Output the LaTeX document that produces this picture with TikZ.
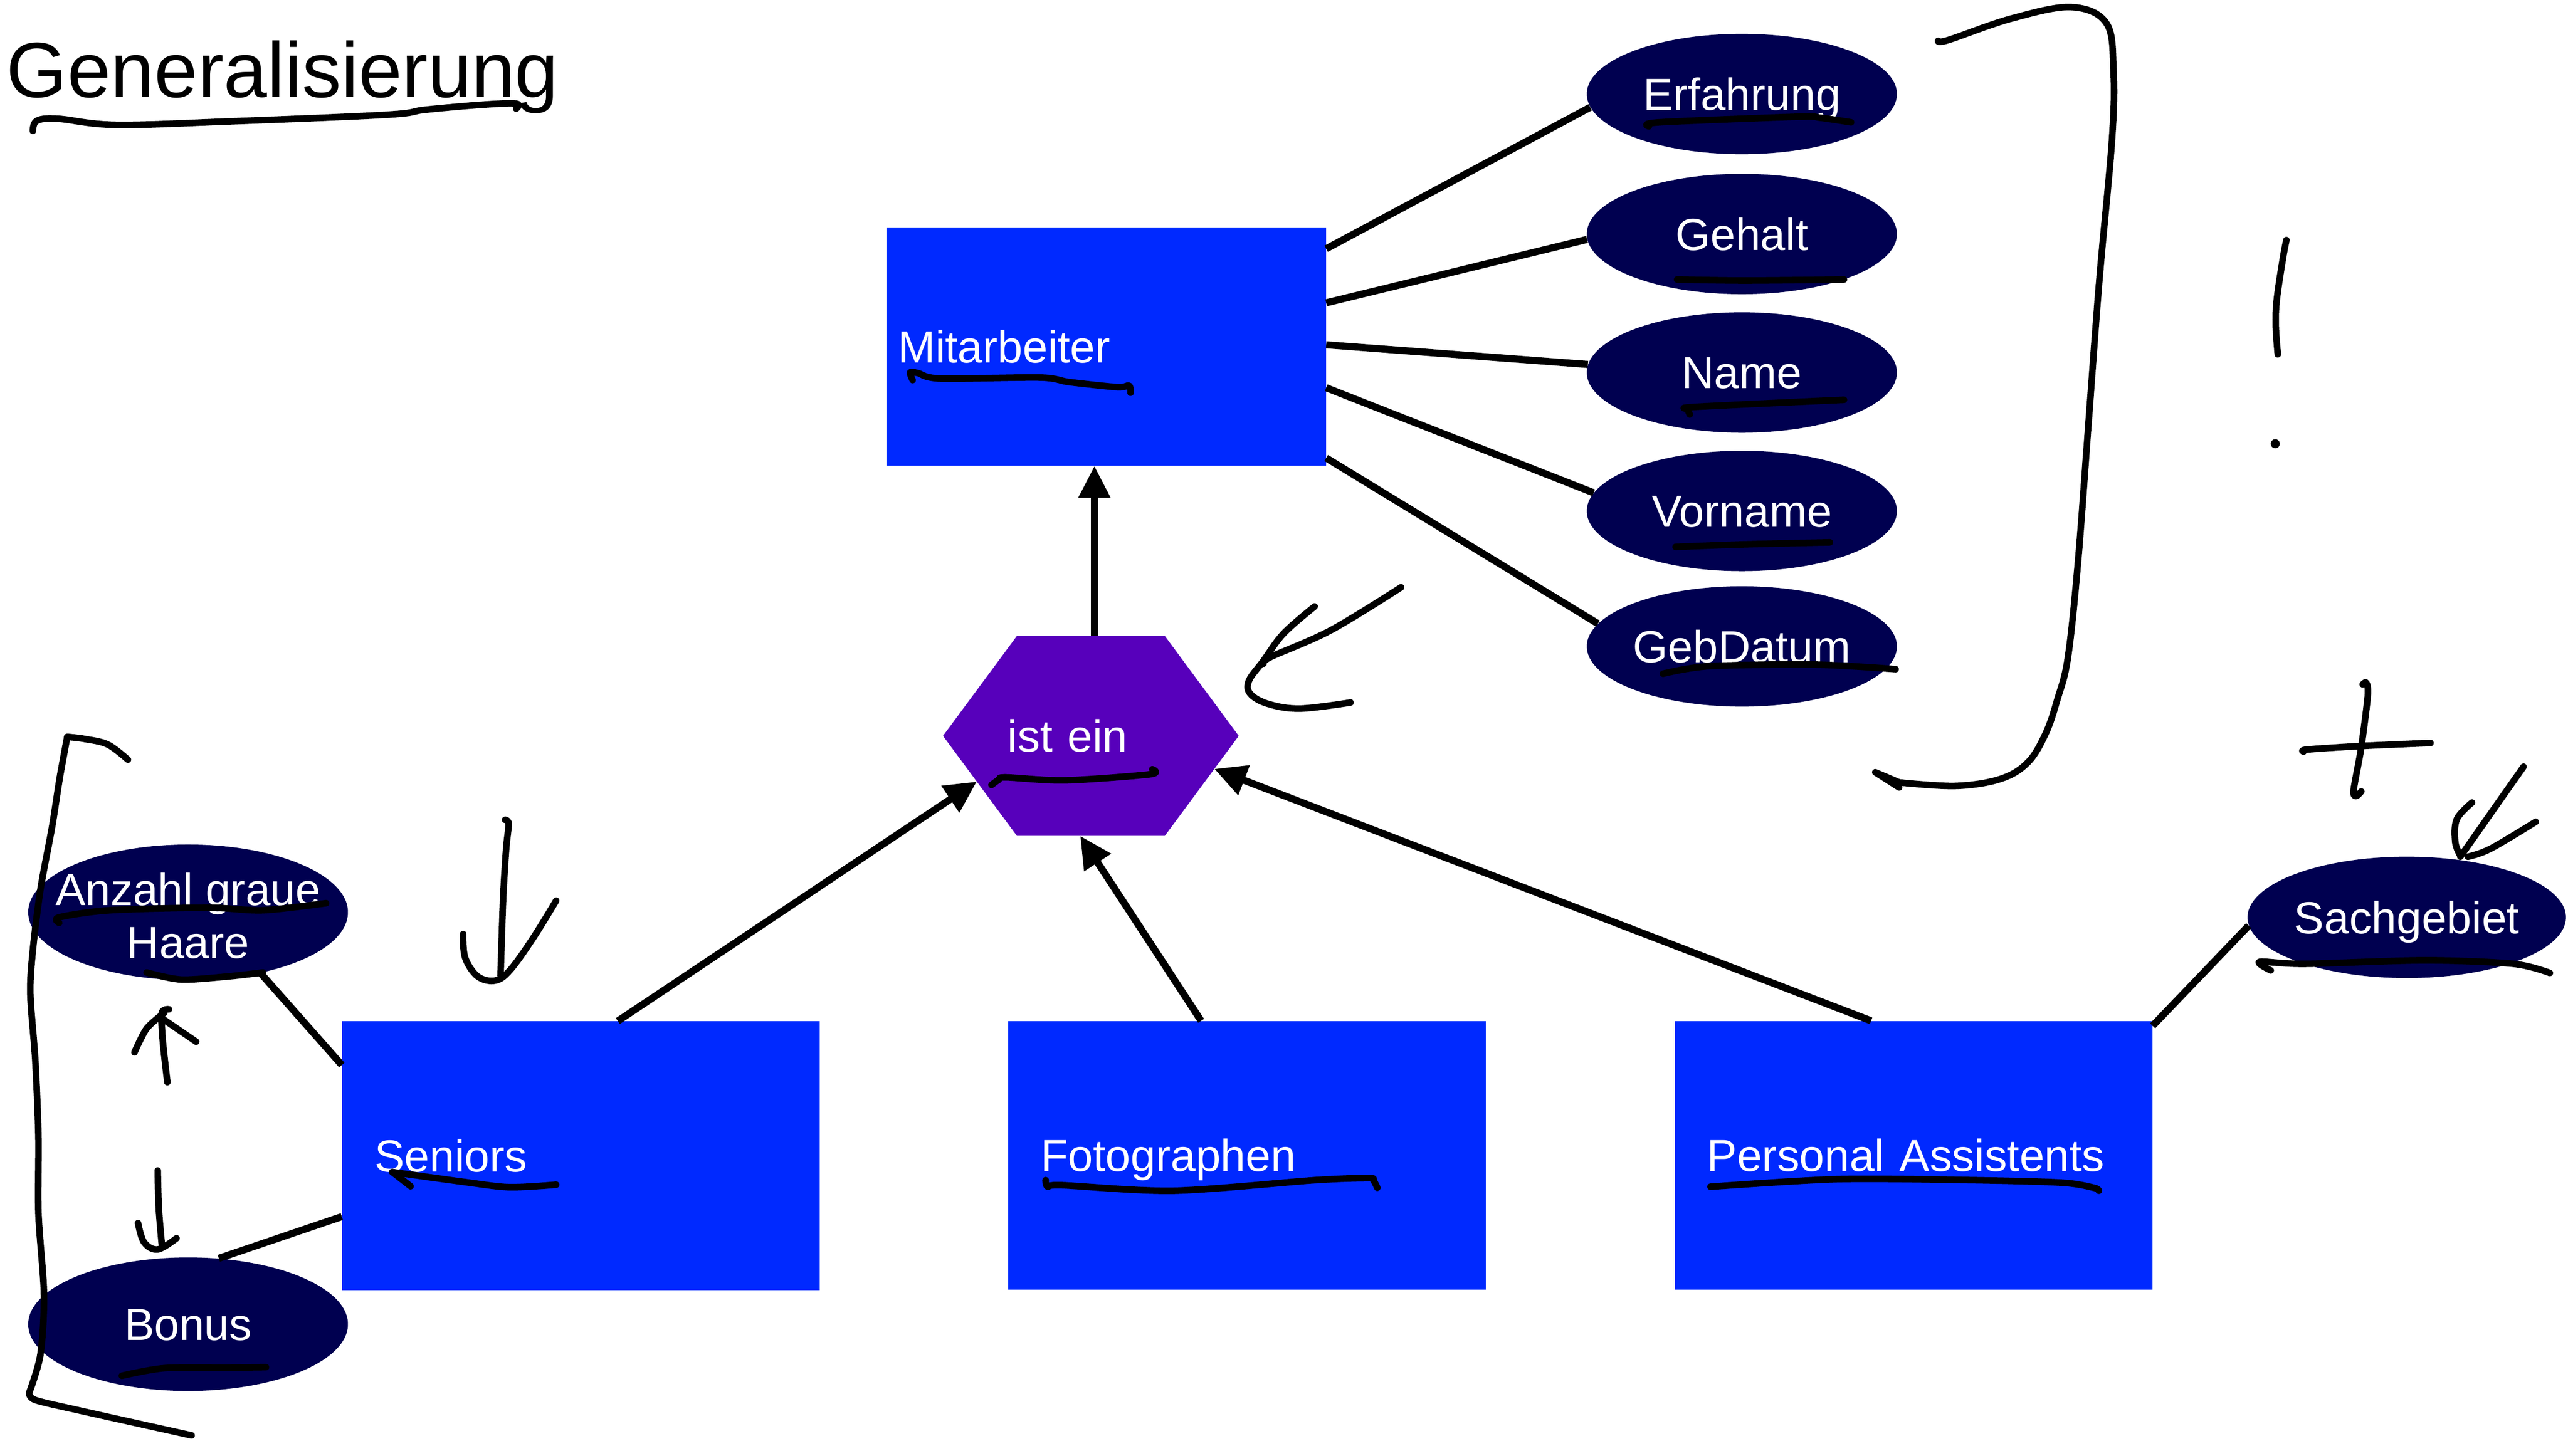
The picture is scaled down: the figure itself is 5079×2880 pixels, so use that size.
\documentclass[tikz,border=0pt]{standalone}
\usepackage{fontspec}
\setmainfont{Liberation Sans}
\usetikzlibrary{arrows.meta,calc,shapes.geometric}
\definecolor{entblue}{RGB}{0,41,255}
\definecolor{attnavy}{RGB}{0,0,80}
\definecolor{isapurple}{RGB}{87,0,187}
\pgfdeclarelayer{bg}
\pgfsetlayers{bg,main}
\begin{document}
\begin{tikzpicture}[x=0.01cm,y=-0.01cm,
  lbl/.style={text=white, font=\fontsize{25.3}{30}\selectfont, text height=18.1pt, text depth=0pt},
  entity/.style={lbl, rectangle, fill=entblue, minimum width=9.44cm, minimum height=5.31cm, inner ysep=0pt, inner xsep=0.64cm, text width=8.16cm, align=left},
  attr/.style={lbl, ellipse, fill=attnavy, minimum width=6.13cm, minimum height=2.38cm, inner sep=0pt, align=center},
  conn/.style={line width=0.14cm},
  isarrow/.style={conn, -{Triangle[length=0.63cm,width=0.6cm]}},
  hand/.style={line width=0.13cm, line cap=round, line join=round},
]
\useasboundingbox (0,0) rectangle (5079,2880);
\begin{pgfonlayer}{bg}
\fill[white] (0,0) rectangle (5079,2880);
\end{pgfonlayer}

% title
\node[anchor=base west, inner sep=0pt, font=\fontsize{44}{50}\selectfont] (title) at (12,192) {Generalisierung};

% entities
\node[entity, minimum width=8.68cm, minimum height=4.71cm, inner xsep=0.22cm, text width=8.24cm] (mit) at (2188,685.5) {Mitarbeiter};
\node[entity] (sen) at (1149,2286.5) {Seniors};
\node[entity] (foto) at (2466.5,2286) {Fotographen};
\node[entity] (pa) at (3784.5,2286) {Personal Assistents};

% is-a relationship
\node[lbl, rectangle, minimum width=5.83cm, minimum height=3.94cm, inner ysep=0pt, inner xsep=1.27cm, text width=3.29cm, align=left] (isa) at (2157.5,1456) {ist ein};
\coordinate (isaTL) at ($(isa.north west)!0.25!(isa.north east)$);
\coordinate (isaTR) at ($(isa.north west)!0.75!(isa.north east)$);
\coordinate (isaBL) at ($(isa.south west)!0.25!(isa.south east)$);
\coordinate (isaBR) at ($(isa.south west)!0.75!(isa.south east)$);
\begin{pgfonlayer}{bg}
\fill[isapurple] (isa.west) -- (isaTL) -- (isaTR) -- (isa.east) -- (isaBR) -- (isaBL) -- cycle;
\end{pgfonlayer}
\coordinate (isaSW) at ($(isa.west)!0.457!(isaBL)$);
\coordinate (isaS) at ($(isaBL)!0.428!(isaBR)$);
\coordinate (isaSE) at ($(isa.east)!0.33!(isaBR)$);

% attributes
\node[attr] (erf) at (3445,186) {Erfahrung};
\node[attr] (geh) at (3445,463) {Gehalt};
\node[attr] (name) at (3445,737) {Name};
\node[attr] (vor) at (3445,1011) {Vorname};
\node[attr] (geb) at (3445,1279) {GebDatum};
\node[attr, minimum width=6.15cm, minimum height=2.4cm] (sach) at (4760,1815) {Sachgebiet};
\node[attr, minimum width=6.32cm, minimum height=2.68cm, text height=52pt, text depth=0pt] (anz) at (372,1805) {\makebox[0pt]{Anzahl graue}\\\makebox[0pt]{Haare}};
\node[attr, minimum width=6.32cm, minimum height=2.64cm] (bonus) at (372,2620) {Bonus};

% attribute connectors
\draw[conn] ($(mit.north east)+(0,43)$) -- (erf.185);
\draw[conn] ($(mit.north east)+(0,150)$) -- (geh.182);
\draw[conn] ($(mit.north east)+(0,233)$) -- (name.177);
\draw[conn] ($(mit.north east)+(0,318)$) -- (vor.173);
\draw[conn] ($(mit.north east)+(0,457)$) -- (geb.171);
\draw[conn] ($(sen.north west)+(0,87)$) -- (anz.320);
\draw[conn] ($(sen.north west)+(0,387)$) -- (bonus.65);
\draw[conn] ($(pa.north east)+(0,10)$) -- (sach.183);

% is-a arrows
\draw[isarrow] ($(isa.north)+(7,0)$) coordinate (isatop) -- (isatop |- mit.south);
\draw[isarrow] ($(sen.north)+(73,0)$) -- (isaSW);
\draw[isarrow] ($(foto.north)+(-91,0)$) -- (isaS);
\draw[isarrow] ($(pa.north)+(-84,0)$) -- (isaSE);

% ---- handwritten annotations ----
% title underline
\draw[hand] plot[smooth, tension=0.6] coordinates {(65,259) (73,239) (115,235) (230,247) (459,240) (765,227) (842,217) (956,207) (1021,205) (1021,215)};
% Mitarbeiter underline
\draw[hand] plot[smooth, tension=0.5] coordinates {(1805,752) (1800,737) (1815,738) (1860,749) (2057,747) (2115,756) (2210,766) (2233,763) (2236,777)};
% ist ein underline
\draw[hand] plot[smooth, tension=0.5] coordinates {(1961,1553) (1975,1543) (1989,1538) (2106,1544) (2274,1532) (2279,1522)};
% arrow near is-a
\draw[hand] plot[smooth, tension=0.6] coordinates {(2771,1162) (2632,1247) (2513,1300) (2499,1313)};
\draw[hand] plot[smooth, tension=0.6] coordinates {(2600,1200) (2539,1253) (2499,1307) (2470,1347) (2473,1373) (2509,1393) (2572,1402) (2671,1390)};
% attribute underlines (right)
\draw[hand] plot[smooth, tension=0.5] coordinates {(3261,250) (3282,242) (3556,231) (3600,233) (3661,242)};
\draw[hand] plot[smooth, tension=0.5] coordinates {(3317,553) (3451,555) (3647,553)};
\draw[hand] plot[smooth, tension=0.5] coordinates {(3342,820) (3339,810) (3353,805) (3647,791)};
\draw[hand] plot[smooth, tension=0.5] coordinates {(3314,1082) (3451,1077) (3619,1073)};
\draw[hand] plot[smooth, tension=0.5] coordinates {(3289,1333) (3381,1318) (3591,1315) (3749,1324)};
% right bracket
\draw[hand] plot[smooth, tension=0.6] coordinates {(3833,81) (3854,79) (3977,37) (4096,14) (4166,46) (4180,139) (4177,277) (4152,555) (4131,832) (4110,1110) (4090,1300) (4069,1384) (4046,1451) (4011,1508) (3957,1541) (3868,1555) (3756,1548)};
\draw[hand] (3756,1548) -- (3709,1528) -- (3756,1558);
% stroke and dot right of bracket
\draw[hand] plot[smooth, tension=0.6] coordinates {(4522,475) (4515,512) (4503,593) (4501,645) (4505,701)};
\fill (4500,878) circle (9);
% plus sign
\draw[hand] plot[smooth, tension=0.5] coordinates {(4556,1487) (4563,1483) (4670,1476) (4807,1470)};
\draw[hand] plot[smooth, tension=0.5] coordinates {(4673,1354) (4680,1351) (4683,1376) (4670,1479) (4655,1563) (4660,1575) (4670,1566)};
% arrow to Sachgebiet
\draw[hand] (4991,1517) -- (4866,1695);
\draw[hand] plot[smooth, tension=0.6] coordinates {(4889,1588) (4859,1621) (4856,1666) (4866,1693)};
\draw[hand] plot[smooth, tension=0.6] coordinates {(5015,1626) (4926,1679) (4881,1695)};
% Sachgebiet underline
\draw[hand] plot[smooth, tension=0.5] coordinates {(4491,1920) (4469,1903) (4558,1907) (4797,1900) (4971,1907) (5043,1925)};
% entity underlines
\draw[hand] plot[smooth, tension=0.5] coordinates {(1100,2344) (1008,2349) (921,2339) (776,2319)};
\draw[hand] (776,2319) -- (812,2347);
\draw[hand] plot[smooth, tension=0.5] coordinates {(2068,2335) (2072,2348) (2100,2345) (2321,2356) (2601,2335) (2707,2331) (2716,2335) (2724,2350)};
\draw[hand] plot[smooth, tension=0.5] coordinates {(3383,2348) (3636,2333) (3900,2335) (4078,2340) (4141,2350) (4151,2356)};
% Seniors down arrow
\draw[hand] plot[smooth, tension=0.5] coordinates {(999,1622) (1006,1630) (1001,1680) (995,1780) (990,1930)};
\draw[hand] plot[smooth, tension=0.6] coordinates {(916,1848) (920,1895) (945,1932) (980,1940) (1010,1918) (1055,1855) (1100,1782)};
% left attribute underlines
\draw[hand] plot[smooth, tension=0.5] coordinates {(117,1826) (117,1815) (217,1801) (412,1796) (520,1801) (645,1787)};
\draw[hand] plot[smooth, tension=0.5] coordinates {(290,1924) (358,1938) (450,1932) (520,1924)};
\draw[hand] plot[smooth, tension=0.5] coordinates {(241,2722) (325,2707) (450,2706) (526,2705)};
% up arrow
\draw[hand] plot[smooth, tension=0.5] coordinates {(331,2141) (322,2060) (320,2004) (334,1997)};
\draw[hand] plot[smooth, tension=0.5] coordinates {(266,2082) (290,2035) (325,2004)};
\draw[hand] (325,2018) -- (388,2061);
% down arrow
\draw[hand] plot[smooth, tension=0.5] coordinates {(312,2316) (314,2390) (320,2462)};
\draw[hand] plot[smooth, tension=0.6] coordinates {(273,2420) (285,2458) (312,2472) (349,2450)};
% left bracket
\draw[hand] plot[smooth, tension=0.6] coordinates {(253,1503) (213,1473) (167,1462) (133,1458)};
\draw[hand] plot[smooth, tension=0.5] coordinates {(133,1458) (118,1540) (103,1636) (80,1760) (65,1880) (60,1966) (70,2100) (76,2250) (76,2400) (87,2561) (80,2680) (58,2755)};
\draw[hand] plot[smooth, tension=0.5] coordinates {(58,2755) (70,2770) (163,2792) (379,2840)};
\end{tikzpicture}
\end{document}
